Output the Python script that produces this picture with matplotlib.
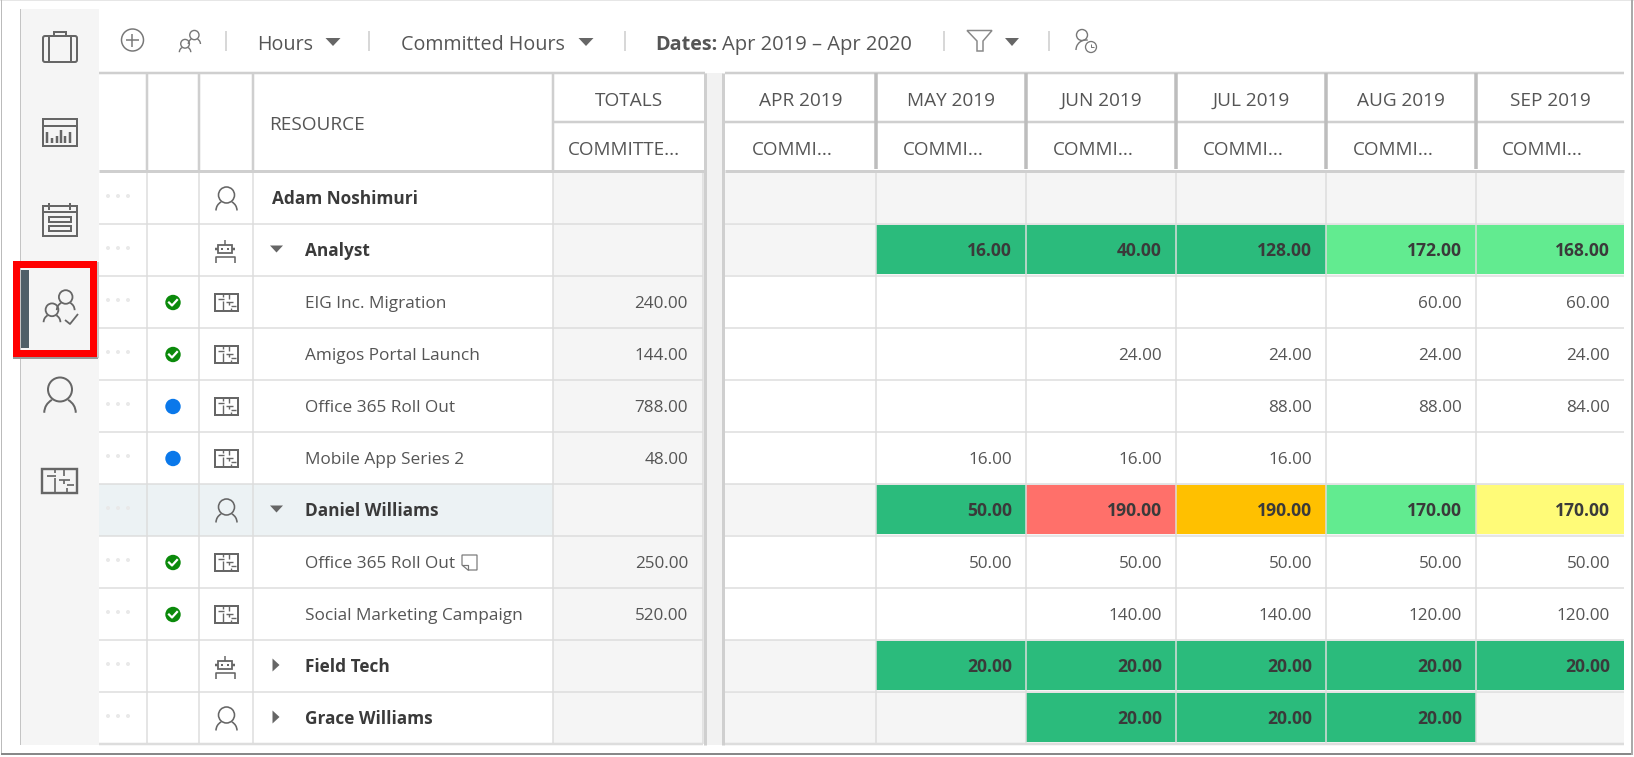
import matplotlib
matplotlib.use('Agg')
import matplotlib.pyplot as plt
from matplotlib.patches import Rectangle, Circle, Arc, Polygon, FancyBboxPatch

plt.rcParams['font.family'] = ['Open Sans', 'DejaVu Sans']

# Table data
months = ['APR 2019', 'MAY 2019', 'JUN 2019', 'JUL 2019', 'AUG 2019', 'SEP 2019']
names = ['Adam Noshimuri', 'Analyst', 'EIG Inc. Migration', 'Amigos Portal Launch', 'Office 365 Roll Out',
         'Mobile App Series 2', 'Daniel Williams', 'Office 365 Roll Out', 'Social Marketing Campaign',
         'Field Tech', 'Grace Williams']
row_kinds = ['person', 'robot', 'plan', 'plan', 'plan', 'plan', 'person', 'plan', 'plan', 'robot', 'person']
carets = [None, 'down', None, None, None, None, 'down', None, None, 'right', 'right']
statuses = [None, None, 'ok', 'ok', 'blue', 'blue', None, 'ok', 'ok', None, None]
totals = [None, None, 240, 144, 788, 48, None, 250, 520, None, None]
apr_2019 = [None] * 11
may_2019 = [None, 16, None, None, None, 16, 50, 50, None, 20, None]
jun_2019 = [None, 40, None, 24, None, 16, 190, 50, 140, 20, 20]
jul_2019 = [None, 128, None, 24, 88, 16, 190, 50, 140, 20, 20]
aug_2019 = [None, 172, 60, 24, 88, None, 170, 50, 120, 20, 20]
sep_2019 = [None, 168, 60, 24, 84, None, 170, 50, 120, 20, None]
month_values = [apr_2019, may_2019, jun_2019, jul_2019, aug_2019, sep_2019]

GREEN = '#2BBB7C'
LIGHT = '#62EB90'
RED = '#FF706A'
ORANGE = '#FFC000'
YELLOW = '#FFFB78'
may_colors = {1: GREEN, 6: GREEN, 9: GREEN}
jun_colors = {1: GREEN, 6: RED, 9: GREEN, 10: GREEN}
jul_colors = {1: GREEN, 6: ORANGE, 9: GREEN, 10: GREEN}
aug_colors = {1: LIGHT, 6: LIGHT, 9: GREEN, 10: GREEN}
sep_colors = {1: LIGHT, 6: YELLOW, 9: GREEN}
month_colors = [{}, may_colors, jun_colors, jul_colors, aug_colors, sep_colors]

# Layout in image pixels
W, H = 1634, 757
col_x = [99, 147, 199, 253, 553, 703]
month_x = [725, 876, 1026, 1176, 1326, 1476, 1624]
row_top = 172
row_h = 52
GRID = '#DDDDDD'
HEAD = '#CFCFCF'
GRAY = '#F5F5F5'
TEXT = '#555555'
DARK = '#3A3A3A'
ICON = '#666666'

fig = plt.figure(figsize=(W / 100, H / 100), dpi=100)
ax = fig.add_axes([0, 0, 1, 1])
ax.set_xlim(0, W)
ax.set_ylim(H, 0)
ax.axis('off')


def px(n):
    return n * 0.72


def rect(x0, y0, x1, y1, color, z=1):
    ax.add_patch(Rectangle((x0, y0), x1 - x0, y1 - y0, fc=color, ec='none', zorder=z))


def line(xs, ys, color=ICON, lw=2, z=3):
    ax.plot(xs, ys, color=color, lw=px(lw), zorder=z, solid_capstyle='butt')


def box(x0, y0, x1, y1, color=ICON, lw=2, z=3):
    ax.add_patch(Rectangle((x0, y0), x1 - x0, y1 - y0, fc='none', ec=color, lw=px(lw), zorder=z))


def label(x, y, s, size=14, color=TEXT, weight='normal', ha='left', z=5):
    ax.text(x, y + 2, s, fontsize=size, color=color, fontweight=weight, ha=ha, va='center', zorder=z)


def person(cx, cy, scale=1.0, color=ICON, lw=1.6):
    ax.add_patch(Circle((cx, cy - 4 * scale), 8 * scale, fc='none', ec=color, lw=px(lw), zorder=3))
    # shoulders stop where they reach the head
    for t1, t2 in [(180, 238), (302, 360)]:
        ax.add_patch(Arc((cx, cy + 11.5 * scale), 21 * scale, 20 * scale, theta1=t1, theta2=t2,
                         ec=color, lw=px(lw), zorder=3))


def robot(cx, cy):
    box(cx - 7, cy - 6, cx + 7, cy + 2, lw=1.8)
    line([cx, cx], [cy - 11, cy - 6], lw=1.5)
    line([cx - 10, cx - 7], [cy - 2, cy - 2], lw=2.5)
    line([cx + 7, cx + 10], [cy - 2, cy - 2], lw=2.5)
    line([cx - 4, cx - 2], [cy - 2, cy - 2], lw=2)
    line([cx + 2, cx + 4], [cy - 2, cy - 2], lw=2)
    line([cx - 9.5, cx - 9.5, cx + 9.5, cx + 9.5], [cy + 12, cy + 6, cy + 6, cy + 12], lw=1.6)


def plan(cx, cy, w=23, h=17, color=ICON, lw=2):
    x0, y0 = cx - w / 2, cy - h / 2
    box(x0, y0, x0 + w, y0 + h, color=color, lw=lw)
    fx, fy = w / 23, h / 17
    for a, b, c, d in [(3, 5, 9, 5), (8, 0, 8, 3), (8, 7, 8, 17), (14, 0, 14, 5), (11, 8, 18, 8),
                       (14, 8, 14, 11), (16, 12, 21, 12), (16, 14, 16, 17)]:
        line([x0 + a * fx, x0 + c * fx], [y0 + b * fy, y0 + d * fy], color=color, lw=lw * 0.7)


def caret_down(cx, cy, w=13, h=7):
    ax.add_patch(Polygon([(cx - w / 2, cy - h / 2), (cx + w / 2, cy - h / 2), (cx, cy + h / 2)],
                         fc=ICON, ec='none', zorder=3))


def caret_right(cx, cy):
    ax.add_patch(Polygon([(cx - 3.5, cy - 6.5), (cx + 3.5, cy), (cx - 3.5, cy + 6.5)],
                         fc=ICON, ec='none', zorder=3))


def team(cx, cy, scale=1.0, color=ICON, lw=1.6):
    person(cx - 8 * scale, cy + 8 * scale, 0.8 * scale, color, lw)
    person(cx + 5.7 * scale, cy - 4.6 * scale, 0.85 * scale, color, lw)


def sep(x):
    line([x, x], [31, 51], color='#CCCCCC', lw=1.5)


# Screenshot frame
rect(0, 0, W, 1, '#E6E6E6')
rect(1, 0, 2.5, 754, '#BBBBBB')
rect(1, 753, 1633, 755, '#888888')
rect(1631.5, 0, 1633, 755, '#AAAAAA')

# Sidebar
rect(20, 9, 99, 745, GRAY)
rect(20, 9, 21, 745, '#C4C4C4')

# Sidebar icons
ax.add_patch(FancyBboxPatch((43, 36), 34, 26, boxstyle='round,pad=0,rounding_size=2',
                            fc='none', ec=ICON, lw=px(2), zorder=3))
line([49.5, 49.5], [36, 62])
line([71, 71], [36, 62])
box(54, 32, 66, 36)
box(43, 119, 77, 146)
line([43, 77], [126, 126])
for bx, bh in zip([47.5, 52, 57, 61, 65.5, 70], [11, 5, 7, 13, 7, 11]):
    line([bx, bx], [143, 143 - bh], lw=2.5)
box(43, 206, 77, 236)
line([49.5, 49.5], [203, 210])
line([70, 70], [203, 210])
line([43, 77], [212, 212])
box(49, 217, 71, 222)
box(49, 226, 71, 231)
person(60, 395.5, 1.5, lw=2)
plan(60, 480.5, 35, 24, lw=2.4)

# Active sidebar entry
rect(21, 270, 29, 348, '#4F5F68', 3)
team(60, 305, lw=1.8)
line([65, 70, 78], [320, 324, 314], lw=1.8)
line([13, 98], [358, 358], color='#999999', lw=2, z=2)
line([98, 98], [262, 358], color='#BBBBBB', lw=1.5, z=2)
ax.add_patch(Rectangle((16.5, 263.5), 77, 89.5, fc='none', ec='#FF0000', lw=px(7), joinstyle='miter', zorder=4))

# Toolbar
ax.add_patch(Circle((132.5, 40), 11, fc='none', ec='#777777', lw=px(1.5), zorder=3))
line([126, 139], [40, 40], color='#777777', lw=1.5)
line([132.5, 132.5], [33.5, 46.5], color='#777777', lw=1.5)
team(190.5, 40.5, 0.68, color='#777777', lw=1.4)
sep(226)
label(257, 43, 'Hours', size=14.2)
caret_down(333, 42, 15, 8)
sep(369)
label(401, 43, 'Committed Hours', size=14.2)
caret_down(586, 42, 15, 8)
sep(625)
label(655, 43, 'Dates:', size=14.2, weight='bold')
label(722, 43, 'Apr 2019 \u2013 Apr 2020', size=14.5)
sep(944)
ax.add_patch(Polygon([(967, 30.5), (992, 30.5), (983, 41), (983, 51), (977, 51), (977, 41)],
                     fc='none', ec='#888888', lw=px(1.5), zorder=3))
caret_down(1012, 42, 14, 8)
sep(1049)
ax.add_patch(Circle((1082, 35), 5.5, fc='none', ec='#777777', lw=px(1.4), zorder=3))
ax.add_patch(Arc((1086, 50), 20, 20, theta1=180, theta2=280, ec='#777777', lw=px(1.4), zorder=3))
ax.add_patch(Circle((1091, 47), 5.5, fc='white', ec='#777777', lw=px(1.3), zorder=4))
line([1091, 1091, 1094], [44, 47, 47], color='#777777', lw=1, z=5)

# Rows
for i, name in enumerate(names):
    top = row_top + i * row_h
    mid = top + row_h / 2
    if i == 6:
        rect(99, top, 553, top + row_h, '#ECF2F4')
    # totals and month columns
    rect(553, top, 703, top + row_h, GRAY)
    group = carets[i] is not None or i == 0
    for m, values in enumerate(month_values):
        x0, x1 = month_x[m], month_x[m + 1]
        if group:
            rect(x0, top, x1, top + row_h - 1, GRAY)
        color = month_colors[m].get(i)
        if color:
            rect(x0, top + 1, x1, top + row_h - 2, color, 2)
        if values[i] is not None:
            if group:
                label(x1 - 14, mid - 0.5, '%.2f' % values[i], size=12.6, color=DARK, weight='bold', ha='right')
            else:
                label(x1 - 14, mid, '%.2f' % values[i], size=12.3, ha='right')
    if totals[i] is not None:
        label(688, mid, '%.2f' % totals[i], size=12.3, ha='right')
    # drag dots
    for dx in [108, 118, 128]:
        ax.add_patch(Circle((dx, top + 24), 2, fc='#E9E9E9', ec='none', zorder=3))
    # status
    if statuses[i] == 'ok':
        ax.add_patch(Circle((173, mid + 0.5), 7.7, fc='#0B8A0B', ec='none', zorder=3))
        ax.plot([169, 172, 177], [mid + 0.5, mid + 3.5, mid - 2], color='white', lw=px(2.2), zorder=4)
    elif statuses[i] == 'blue':
        ax.add_patch(Circle((173, mid + 0.5), 7.7, fc='#0A78EA', ec='none', zorder=3))
    # icon
    if row_kinds[i] == 'person':
        person(226.5, mid + 1)
    elif row_kinds[i] == 'robot':
        robot(225.5, mid + 1)
    else:
        plan(226.5, mid + 0.5)
    # caret and name
    if carets[i] == 'down':
        caret_down(276.5, mid - 1)
    elif carets[i] == 'right':
        caret_right(276, mid - 1)
    if i == 0:
        label(272, mid - 0.5, name, size=12.4, color=DARK, weight='bold')
    elif carets[i]:
        label(305, mid - 0.5, name, size=12.4, color=DARK, weight='bold')
    else:
        label(305, mid, name, size=12.4)
    # grid lines
    line([99, 703], [top + row_h, top + row_h], color=GRID, lw=1.5, z=2.5)
    line([725, 1624], [top + row_h, top + row_h], color=GRID, lw=1.5, z=2.5)

# Note icon next to the second Office 365 row
note_y = row_top + 7 * row_h + row_h / 2 + 1
ax.add_patch(Polygon([(462, note_y - 8), (477, note_y - 8), (477, note_y + 7), (468, note_y + 7), (462, note_y + 2)],
                     fc='none', ec='#777777', lw=px(1.2), zorder=3))
line([462, 468, 468], [note_y + 2, note_y + 2, note_y + 7], color='#777777', lw=1.2)

bottom = row_top + len(names) * row_h
line([99, 703], [bottom, bottom], color=GRID, lw=2.5, z=2.6)
line([725, 1624], [bottom, bottom], color=GRID, lw=2.5, z=2.6)

# Column lines
for x in col_x[1:]:
    line([x, x], [row_top, bottom], color=GRID, lw=1.5, z=2.5)
for x in month_x[1:-1]:
    line([x, x], [row_top, bottom], color=GRID, lw=1.5, z=2.6)

# Header
rect(99, 73, 1624, 172, 'white', 2.7)
line([99, 705], [73, 73], color=HEAD, lw=2.5, z=3)
line([725, 1624], [73, 73], color=HEAD, lw=2.5, z=3)
line([99, 705], [171, 171], color=HEAD, lw=3, z=3)
line([725, 1624], [171, 171], color=HEAD, lw=3, z=3)
line([553, 704], [122, 122], color=HEAD, lw=2.5, z=3)
line([725, 1624], [122, 122], color=HEAD, lw=2.5, z=3)
for x in col_x[1:-1]:
    line([x, x], [73, 170], color=HEAD, lw=2.5, z=3)
for x in month_x[1:-1]:
    line([x, x], [73, 169], color='#BDBDBD', lw=3.5, z=3)

# Splitter between frozen and scrolling parts
rect(705, 73, 723, 745, '#F2F2F2', 3)
line([705, 705], [73, 745], color=HEAD, lw=3, z=3.1)
line([723.5, 723.5], [73, 745], color=HEAD, lw=3, z=3.1)

label(269, 123, 'RESOURCE', size=13.7)
label(629, 99, 'TOTALS', size=13.7, ha='center')
label(624, 148, 'COMMITTE...', size=13.6, ha='center')
for m, month in enumerate(months):
    c = (month_x[m] + month_x[m + 1]) / 2
    label(c, 99, month, size=13.7, ha='center')
    label(c - 8, 148, 'COMMI...', size=13.6, ha='center')

fig.savefig('out.png', dpi=100, facecolor='white')
